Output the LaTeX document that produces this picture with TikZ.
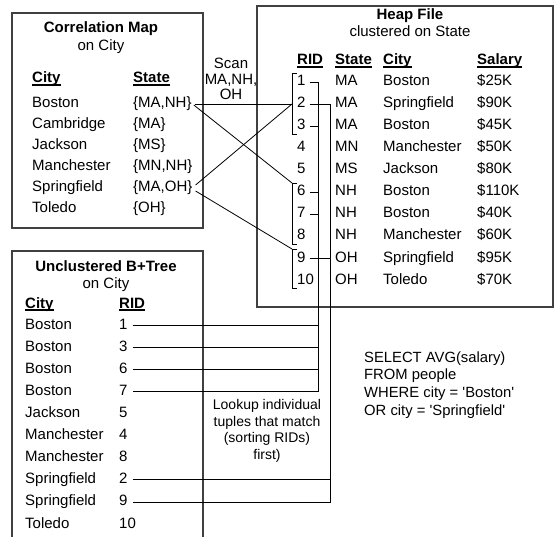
\documentclass[tikz,border=0pt]{standalone}
\usepackage{fontspec}
\setmainfont{Liberation Sans}
\usetikzlibrary{positioning, calc}
\newcommand{\thickul}[1]{\setbox0\hbox{#1}\rlap{\rule[-2.6pt]{\wd0}{1.4pt}}\box0}

\begin{document}
\begin{tikzpicture}[x=1pt, y=-1pt,
  font=\fontsize{15}{16.5}\selectfont,
  cell/.style={anchor=west, inner sep=0pt, text height=11pt, text depth=3pt},
  hdr/.style={cell, font=\fontsize{15}{16.5}\selectfont\bfseries},
  title/.style={inner sep=0pt, text height=11pt, text depth=3pt, font=\fontsize{15}{16.5}\selectfont\bfseries},
  sub/.style={inner sep=0pt, text height=11pt, text depth=3pt},
  frame/.style={draw=black!75, line width=1.1pt},
  link/.style={draw=black, line width=0.8pt}]
  \useasboundingbox (0,0) rectangle (556,537);

  % correlation map
  \draw[frame] (12,13) rectangle (203,228);
  \node[title] (cmtitle) at (101,29) {Correlation Map};
  \node[sub] (cmsub) at (101,47) {on City};
  \node[hdr] (cmcity) at (32,79) {\thickul{City}};
  \node[hdr] (cmstate) at (133,79) {\thickul{State}};
  \foreach \c/\s [count=\i] in {Boston/{\{MA,NH\}}, Cambridge/{\{MA\}}, Jackson/{\{MS\}},
      Manchester/{\{MN,NH\}}, Springfield/{\{MA,OH\}}, Toledo/{\{OH\}}}
    {\node[cell] (cmc\i) at (32,{83+21*\i}) {\c};
     \node[cell] (cms\i) at (133,{83+21*\i}) {\s};}
  \node[align=center, inner sep=0pt, font=\fontsize{15}{15.7}\selectfont] (scan) at (231,79)
    {Scan\\MA,NH,\\OH};

  % heap file
  \draw[frame] (257,6) rectangle (553,307);
  \node[title] (hftitle) at (410,16) {Heap File};
  \node[sub] (hfsub) at (410,33) {clustered on State};
  \node[hdr] (hfrid) at (297,61) {\thickul{RID}};
  \node[hdr] (hfstate) at (335,61) {\thickul{State}};
  \node[hdr] (hfcity) at (383,61) {\thickul{City}};
  \node[hdr] (hfsal) at (477,61) {\thickul{Salary}};
  \foreach \s/\c/\p [count=\i] in {MA/Boston/25K, MA/Springfield/90K, MA/Boston/45K,
      MN/Manchester/50K, MS/Jackson/80K, NH/Boston/110K, NH/Boston/40K,
      NH/Manchester/60K, OH/Springfield/95K, OH/Toledo/70K}
    {\node[cell] (hr\i) at (297,{60+22*\i}) {\i};
     \node[cell] (hs\i) at (335,{60+22*\i}) {\s};
     \node[cell] (hc\i) at (383,{60+22*\i}) {\c};
     \node[cell] (hp\i) at (477,{60+22*\i}) {\$\p};}

  % brackets round the state groups
  \foreach \a/\b in {1/3, 6/8, 9/10}
    \draw[link] ($(hr\a.west)+(0,-9)$) -- ++(-5,0) -- ($(hr\b.west)+(-5,8)$) -- ++(5,0);
  \coordinate (grpMA) at ($(hr2.west)+(-5,0)$);
  \coordinate (grpNH) at ($(hr6.west)+(-5,-9)$);
  \coordinate (grpOH) at ($(hr9.west)+(-5,-9)$);
  \draw[link] ([xshift=3pt]cms1.east) -- (grpMA);
  \draw[link] ([xshift=2pt,yshift=-1pt]cms1.east) -- (grpNH);
  \draw[link] ([xshift=3pt,yshift=3pt]cms5.east) -- (grpMA);
  \draw[link] ([xshift=3pt,yshift=-3pt]cms5.east) -- (grpOH);

  % unclustered b+tree
  \draw[frame] (12,545) -- (12,251) -- (203,251) -- (203,545);
  \node[title] (bttitle) at (106,267) {Unclustered B+Tree};
  \node[sub] (btsub) at (106,284) {on City};
  \node[hdr] (btcity) at (25,304) {\thickul{City}};
  \node[hdr] (btrid) at (119,304) {\thickul{RID}};
  \foreach \c/\r [count=\i] in {Boston/1, Boston/3, Boston/6, Boston/7, Jackson/5,
      Manchester/4, Manchester/8, Springfield/2, Springfield/9, Toledo/10}
    {\node[cell] (btc\i) at (25,{303+22.1*\i}) {\c};
     \node[cell] (br\r) at (119,{303+22.1*\i}) {\r};}

  % lookups from the index into the heap
  \coordinate (railA) at (318,0);
  \coordinate (railB) at (330,0);
  \draw[link] ([xshift=4pt]hr1.east) -- (hr1.east -| railA) -- (br7.east -| railA) -- ([xshift=5pt]br7.east);
  \draw[link] ([xshift=4pt]hr2.east) -- (hr2.east -| railB) -- (br9.east -| railB) -- ([xshift=5pt]br9.east);
  \foreach \r in {3,6,7}
    \draw[link] ([xshift=4pt]hr\r.east) -- (hr\r.east -| railA);
  \draw[link] ([xshift=4pt]hr9.east) -- (hr9.east -| railB);
  \foreach \r in {1,3,6}
    \draw[link] ([xshift=5pt]br\r.east) -- (br\r.east -| railA);
  \draw[link] ([xshift=5pt]br2.east) -- (br2.east -| railB);
  \node[align=center, inner sep=0pt, font=\fontsize{14}{16.5}\selectfont] (lookup) at (267,431)
    {Lookup individual\\tuples that match\\(sorting RIDs)\\first)};

  % query
  \node[align=left, anchor=west, inner sep=0pt, font=\fontsize{14.8}{17.7}\selectfont] (query) at (364,385)
    {SELECT AVG(salary)\\FROM people\\WHERE city = \textquotesingle Boston\textquotesingle\\OR city = \textquotesingle Springfield\textquotesingle};
\end{tikzpicture}
\end{document}
